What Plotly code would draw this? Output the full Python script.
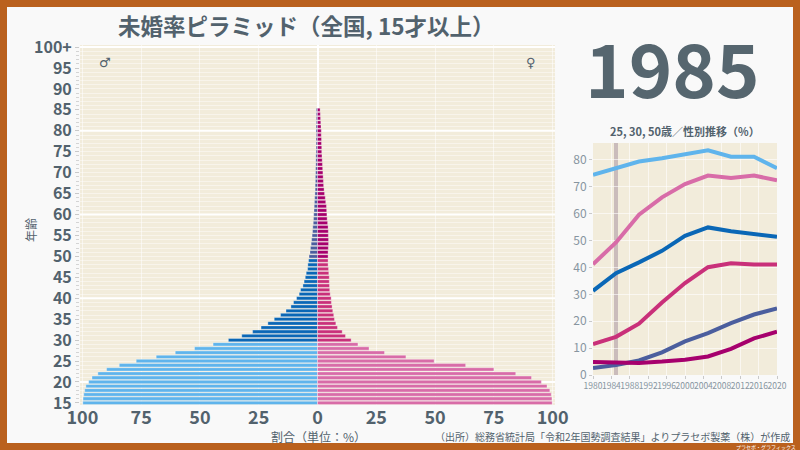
import plotly.graph_objects as go

# ---------------- data ----------------
ages = list(range(15, 86))
male = [99.8, 99.7, 99.4, 99.0, 98.5, 97.3, 95.9, 93.4, 89.7, 84.3,
        77.1, 68.6, 60.5, 52.3, 44.4, 37.9, 32.2, 27.6, 24.0, 21.1,
        18.4, 15.7, 13.4, 11.3, 10.2, 8.9, 7.8, 7.2, 6.2, 5.7,
        5.2, 4.8, 4.2, 4.1, 3.8, 3.6, 3.2, 3.0, 2.7, 2.5,
        2.3, 2.1, 2.0, 1.8, 1.7, 1.6, 1.5, 1.4, 1.3, 1.2,
        1.1, 1.0, 1.0, 0.9, 0.9, 0.8, 0.8, 0.7, 0.7, 0.7,
        0.6, 0.6, 0.6, 0.6, 0.5, 0.6, 0.6, 0.5, 0.5, 0.5, 0.5]
female = [99.8, 99.7, 99.4, 98.8, 97.6, 95.2, 91.0, 84.3, 75.0, 63.0,
          49.6, 37.6, 28.5, 21.9, 17.2, 14.3, 11.9, 10.5, 8.5, 7.8,
          7.2, 6.9, 6.5, 6.2, 5.9, 5.8, 5.4, 5.2, 5.1, 5.0,
          5.0, 4.8, 4.7, 4.5, 4.5, 4.5, 4.5, 4.6, 4.7, 4.7,
          4.6, 4.6, 4.5, 4.3, 4.1, 4.0, 3.9, 3.8, 3.5, 3.3,
          3.0, 2.8, 2.6, 2.5, 2.4, 2.3, 2.2, 2.1, 2.0, 1.9,
          1.8, 1.8, 1.7, 1.7, 1.6, 1.6, 1.5, 1.4, 1.3, 1.2, 1.1]

age_ticks = [15, 20, 25, 30, 35, 40, 45, 50, 55, 60, 65, 70, 75, 80, 85, 90, 95, 100]
age_labels = ["15", "20", "25", "30", "35", "40", "45", "50", "55", "60",
              "65", "70", "75", "80", "85", "90", "95", "100+"]
pct_ticks = [-100, -75, -50, -25, 0, 25, 50, 75, 100]
pct_labels = ["100", "75", "50", "25", "0", "25", "50", "75", "100"]

years = [1980, 1985, 1990, 1995, 2000, 2005, 2010, 2015, 2020]
male25 = [74.5, 76.8, 79.4, 80.6, 82.1, 83.6, 81.2, 81.2, 76.9]
female25 = [41.2, 49.3, 59.6, 66.1, 71.0, 74.2, 73.3, 74.2, 72.4]
male30 = [31.3, 37.9, 41.9, 46.2, 51.8, 54.9, 53.5, 52.5, 51.4]
female30 = [11.5, 14.2, 19.1, 27.0, 34.2, 40.1, 41.6, 41.1, 41.1]
male50 = [2.6, 3.7, 5.4, 8.4, 12.5, 15.6, 19.3, 22.5, 24.8]
female50 = [4.8, 4.5, 4.5, 5.0, 5.7, 6.9, 9.7, 13.6, 16.1]
current_year = 1985

# ---------------- style ----------------
FONT = "Noto Sans CJK JP"
TXT = "#52626D"
BG = "#F9F9F9"
FRAME = "#BA611E"
PLOTBG = "#F2ECDB"
M_COL = ["#5FB4EC", "#0A67B6", "#4B5E9E"]
F_COL = ["#D86CA8", "#C9307A", "#A6006D"]


def grp(a):
    return 0 if a < 30 else (1 if a < 50 else 2)


def px(x):
    return x / 800


def py(y):
    return (450 - y) / 450


fig = go.Figure()

fig.add_trace(go.Bar(
    y=ages, x=[-v for v in male], orientation="h",
    marker=dict(color=[M_COL[grp(a)] for a in ages],
                line=dict(width=0.6, color="rgba(255,255,255,0.55)")),
    xaxis="x", yaxis="y", showlegend=False, hoverinfo="skip"))
fig.add_trace(go.Bar(
    y=ages, x=female, orientation="h",
    marker=dict(color=[F_COL[grp(a)] for a in ages],
                line=dict(width=0.6, color="rgba(255,255,255,0.55)")),
    xaxis="x", yaxis="y", showlegend=False, hoverinfo="skip"))

series = [(male25, M_COL[0]), (female25, F_COL[0]), (male30, M_COL[1]),
          (female30, F_COL[1]), (male50, M_COL[2]), (female50, F_COL[2])]
for vals, col in series:
    fig.add_trace(go.Scatter(x=years, y=vals, mode="lines",
                             line=dict(color=col, width=4),
                             xaxis="x2", yaxis="y2", showlegend=False,
                             hoverinfo="skip"))

frame = dict(type="rect", xref="paper", yref="paper", fillcolor=FRAME,
             line=dict(width=0), layer="above")
shapes = [
    dict(frame, x0=0, x1=px(7), y0=0, y1=1),
    dict(frame, x0=px(793), x1=1, y0=0, y1=1),
    dict(frame, x0=0, x1=1, y0=py(7), y1=1),
    dict(frame, x0=0, x1=1, y0=0, y1=py(443)),
    dict(type="line", xref="x2", yref="y2 domain", x0=current_year, x1=current_year,
         y0=0, y1=1, line=dict(color="rgba(170,150,160,0.55)", width=4), layer="below"),
]
for yv in [20, 40, 60, 80, 100]:
    shapes.append(dict(type="line", xref="x domain", yref="y", x0=0, x1=1,
                       y0=yv, y1=yv, line=dict(color="white", width=2), layer="below"))


def ann(text, x, y, size, color=TXT, xanchor="center", family=FONT, angle=0):
    return dict(text=text, x=px(x), y=py(y), xref="paper", yref="paper",
                xanchor=xanchor, yanchor="middle", showarrow=False, textangle=angle,
                font=dict(family=family, size=size, color=color))


annotations = [
    ann("<b>未婚率ピラミッド（全国, 15才以上）</b>", 306, 25, 22.5),
    ann("<b>1985</b>", 672, 66, 74, color="#56666F"),
    ann("♂", 105, 62, 13, family="DejaVu Sans"),
    ann("♀", 531, 62, 13, family="DejaVu Sans"),
    ann("年齢", 31, 230, 12, angle=-90),
    ann("割合（単位：%）", 318, 436, 12),
    ann("<b>25, 30, 50歳／性別推移（%）</b>", 685, 131, 11),
    ann("（出所）総務省統計局「令和2年国勢調査結果」よりプラセボ製薬（株）が作成",
        792, 436, 10, xanchor="right"),
    ann("プラセボ・グラフィックス", 798, 446.5, 5, color="white", xanchor="right"),
]

fig.update_layout(
    width=800, height=450,
    margin=dict(l=0, r=0, t=0, b=0),
    paper_bgcolor=BG,
    plot_bgcolor=PLOTBG,
    barmode="overlay", bargap=0.2,
    font=dict(family=FONT, color=TXT),
    shapes=shapes, annotations=annotations,
    xaxis=dict(domain=[px(80), px(555)], range=[-101, 101],
               tickvals=pct_ticks, ticktext=pct_labels,
               tickfont=dict(family=FONT, size=18, color=TXT, weight="bold"),
               showgrid=True, gridcolor="rgba(255,255,255,0.55)", gridwidth=1,
               zeroline=True, zerolinecolor="white", zerolinewidth=2,
               ticks="", automargin=False,
               fixedrange=True, anchor="y"),
    yaxis=dict(domain=[py(405), py(45)], range=[14.5, 100.5],
               tickvals=age_ticks, ticktext=age_labels,
               tickfont=dict(family=FONT, size=16, color=TXT, weight="bold"),
               showgrid=False, zeroline=False,
               ticks="outside", ticklen=4, tickcolor="#C9C9C9",
               minor=dict(dtick=1, tick0=0, ticks="outside", ticklen=3,
                          tickcolor="#D4D4D4", showgrid=True,
                          gridcolor="rgba(255,255,255,0.45)", gridwidth=1),
               automargin=False,
               fixedrange=True, anchor="x"),
    xaxis2=dict(domain=[px(593), px(777)], range=[1980, 2020],
                tickvals=list(range(1980, 2021, 4)),
                tickfont=dict(family=FONT, size=8.5, color="#8795A0"),
                tickangle=0,
                showgrid=True, gridcolor="rgba(255,255,255,0.6)",
                zeroline=False, ticks="outside", ticklen=3, tickcolor="#C9C9C9",
                automargin=False, fixedrange=True, anchor="y2"),
    yaxis2=dict(domain=[py(375), py(143)], range=[0, 86.3],
                tickvals=[0, 10, 20, 30, 40, 50, 60, 70, 80],
                tickfont=dict(family=FONT, size=12, color="#8795A0"),
                showgrid=True, gridcolor="rgba(255,255,255,0.6)",
                zeroline=False, ticks="outside", ticklen=3, tickcolor="#C9C9C9",
                automargin=False, fixedrange=True, anchor="x2"),
)

fig.write_html("out.html", config={"displayModeBar": False},
               post_script="document.body.style.margin='0';"
                           "document.body.style.overflow='hidden';")
